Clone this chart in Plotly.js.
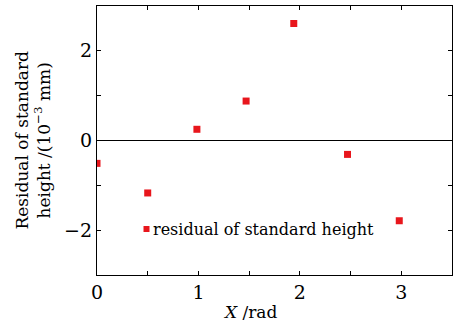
<!DOCTYPE html>
<html>
<head>
<meta charset="utf-8">
<script src="https://cdn.plot.ly/plotly-3.0.1.min.js"></script>
<style>
  html, body { margin: 0; padding: 0; background: #fff; }
  #chart { width: 457px; height: 327px; }
</style>
</head>
<body>
<div id="chart"></div>
<script>
// Residual of the standard height at each rotation angle X (rad), in 10^-3 mm
const angleRad = [0, 0.5, 0.985, 1.47, 1.94, 2.47, 2.98];
const residual = [-0.51, -1.17, 0.25, 0.88, 2.61, -0.31, -1.79];
const seriesName = 'residual of standard height';
const xTickVals = [0, 1, 2, 3];
const yTickVals = [-2, 0, 2];

const FONT = 'DejaVu Serif, Liberation Serif, serif';
const RED = '#e8161c';

// plot area in pixels (used to place the in-plot legend)
const W = 457, H = 327;
const M = { l: 97, r: 5, t: 6, b: 52 };
const plotW = W - M.l - M.r, plotH = H - M.t - M.b;
const px = (x) => (x - M.l) / plotW;
const py = (y) => (H - M.b - y) / plotH;

const trace = {
  x: angleRad,
  y: residual,
  name: seriesName,
  type: 'scatter',
  mode: 'markers',
  marker: { symbol: 'square', size: 7, color: RED, line: { width: 0 } },
  showlegend: false,
  hoverinfo: 'x+y'
};

const axisCommon = {
  showgrid: false,
  showline: true,
  linecolor: '#000',
  linewidth: 1.2,
  mirror: 'ticks',
  ticks: 'inside',
  ticklen: 4,
  tickwidth: 1,
  tickcolor: '#000',
  tickfont: { family: FONT, size: 19, color: '#000' }
};

const layout = {
  width: W,
  height: H,
  margin: M,
  paper_bgcolor: '#fff',
  plot_bgcolor: '#fff',
  font: { family: FONT, color: '#000' },
  xaxis: Object.assign({}, axisCommon, {
    range: [0, 3.5],
    tickmode: 'array',
    tickvals: xTickVals,
    minor: { dtick: 0.5, tick0: 0, ticks: 'inside', ticklen: 4, tickcolor: '#000', tickwidth: 1 },
    zeroline: false
  }),
  yaxis: Object.assign({}, axisCommon, {
    range: [-3, 3],
    tickmode: 'array',
    tickvals: yTickVals,
    minor: { dtick: 1, tick0: 0, ticks: 'inside', ticklen: 4, tickcolor: '#000', tickwidth: 1 },
    zeroline: true,
    zerolinecolor: '#000',
    zerolinewidth: 1
  }),
  shapes: [
    {
      // legend key
      type: 'rect', xref: 'paper', yref: 'paper',
      x0: px(143.5), x1: px(149.5), y0: py(232), y1: py(226),
      fillcolor: RED, line: { width: 0 }
    }
  ],
  annotations: [
    {
      // x-axis title
      xref: 'paper', yref: 'paper',
      x: px(250), y: py(312),
      xanchor: 'center', yanchor: 'middle',
      text: '<i>X</i> /rad',
      showarrow: false,
      font: { family: FONT, size: 17, color: '#000' }
    },
    {
      // y-axis title
      xref: 'paper', yref: 'paper',
      x: 0, y: 0.5,
      xshift: -65,
      xanchor: 'center', yanchor: 'middle',
      textangle: -90,
      text: 'Residual of standard<br>height /(10<sup>−3</sup> mm)',
      showarrow: false,
      font: { family: FONT, size: 17, color: '#000' }
    },
    {
      // legend label
      xref: 'paper', yref: 'paper',
      x: px(151), y: py(229),
      xanchor: 'left', yanchor: 'middle',
      text: seriesName,
      showarrow: false,
      font: { family: FONT, size: 16, color: '#000' }
    }
  ]
};

Plotly.newPlot('chart', [trace], layout, { staticPlot: true, displayModeBar: false });
</script>
</body>
</html>
